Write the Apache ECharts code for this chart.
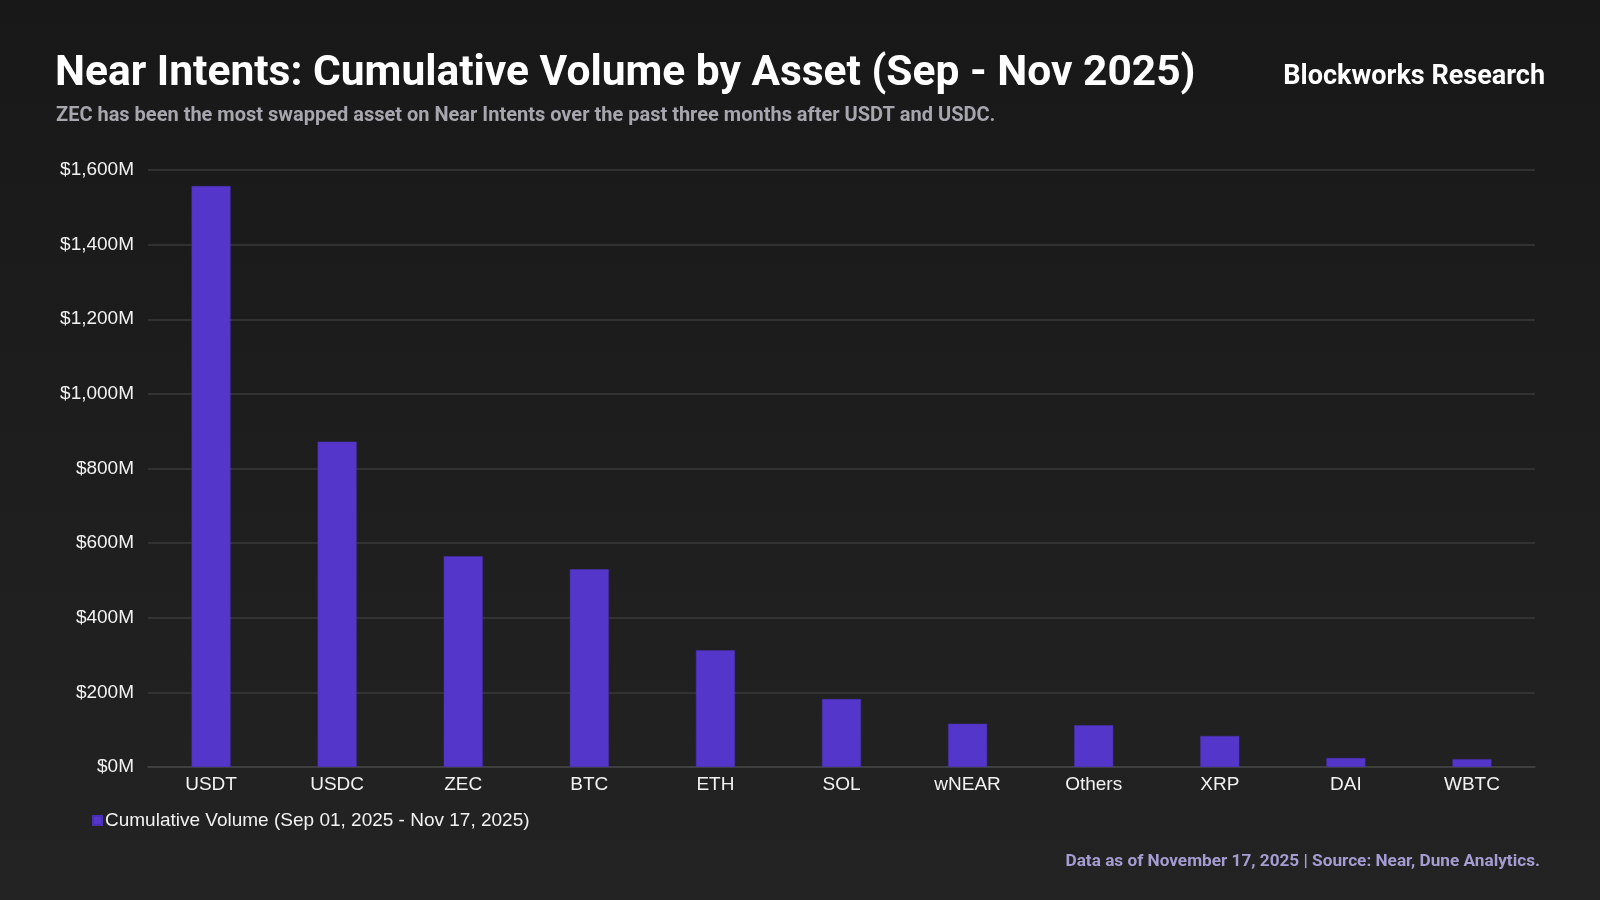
<!DOCTYPE html>
<html>
<head>
<meta charset="utf-8">
<script src="https://cdn.jsdelivr.net/npm/echarts@6/dist/echarts.min.js"></script>
<style>
html,body{margin:0;padding:0;background:#1c1c1c;}
#chart{width:1600px;height:900px;}
</style>
</head>
<body>
<div id="chart"></div>
<script>
const categories = ['USDT','USDC','ZEC','BTC','ETH','SOL','wNEAR','Others','XRP','DAI','WBTC'];
const volumeM = [1557, 872, 565, 530, 313, 182, 116, 112, 83, 24, 21];
const seriesName = 'Cumulative Volume (Sep 01, 2025 - Nov 17, 2025)';
const titleText = 'Near Intents: Cumulative Volume by Asset (Sep - Nov 2025)';
const subtitleText = 'ZEC has been the most swapped asset on Near Intents over the past three months after USDT and USDC.';
const brandText = 'Blockworks Research';
const footerText = 'Data as of November 17, 2025 | Source: Near, Dune Analytics.';

const chart = echarts.init(document.getElementById('chart'));
chart.setOption({
  backgroundColor: {
    type: 'linear', x: 0, y: 0, x2: 0, y2: 1,
    colorStops: [{offset: 0, color: '#181818'}, {offset: 1, color: '#232323'}]
  },
  animation: false,
  title: [
    {text: titleText, left: 50, top: 48,
     textStyle: {color: '#ffffff', fontFamily: 'Roboto', fontWeight: 'bold', fontSize: 42.5}},
    {text: subtitleText, left: 51, top: 101,
     textStyle: {color: '#a6a6ae', fontFamily: 'Roboto', fontWeight: 'bold', fontSize: 20}},
    {text: brandText, right: 50, top: 59,
     textStyle: {color: '#ffffff', fontFamily: 'Roboto', fontWeight: 'bold', fontSize: 27}},
    {text: footerText, right: 55, top: 848,
     textStyle: {color: '#a49dd2', fontFamily: 'Roboto', fontWeight: 'bold', fontSize: 17.2}}
  ],
  legend: {
    left: 87, top: 806, icon: 'rect', itemWidth: 9, itemHeight: 9, itemGap: 4,
    textStyle: {color: '#f2f2f2', fontFamily: 'Liberation Sans', fontSize: 19, padding: [0,0,0,-2]},
    data: [seriesName]
  },
  grid: {left: 148, right: 65, top: 170, bottom: 133, containLabel: false},
  xAxis: {
    type: 'category', data: categories,
    axisLine: {lineStyle: {color: '#444444', width: 1.5}},
    axisTick: {show: false},
    axisLabel: {color: '#f2f2f2', fontFamily: 'Liberation Sans', fontSize: 19, margin: 8}
  },
  yAxis: {
    type: 'value', min: 0, max: 1600, interval: 200,
    axisLine: {show: false}, axisTick: {show: false},
    splitLine: {lineStyle: {color: '#3a3a3a', width: 1.5}},
    axisLabel: {color: '#f2f2f2', fontFamily: 'Liberation Sans', fontSize: 19, margin: 14,
      formatter: v => '$' + v.toLocaleString('en-US') + 'M'}
  },
  series: [{
    name: seriesName, type: 'bar', data: volumeM, barWidth: 39,
    itemStyle: {color: '#5436ca', borderColor: '#4a30b0', borderWidth: 0.5}
  }]
});
</script>
</body>
</html>
